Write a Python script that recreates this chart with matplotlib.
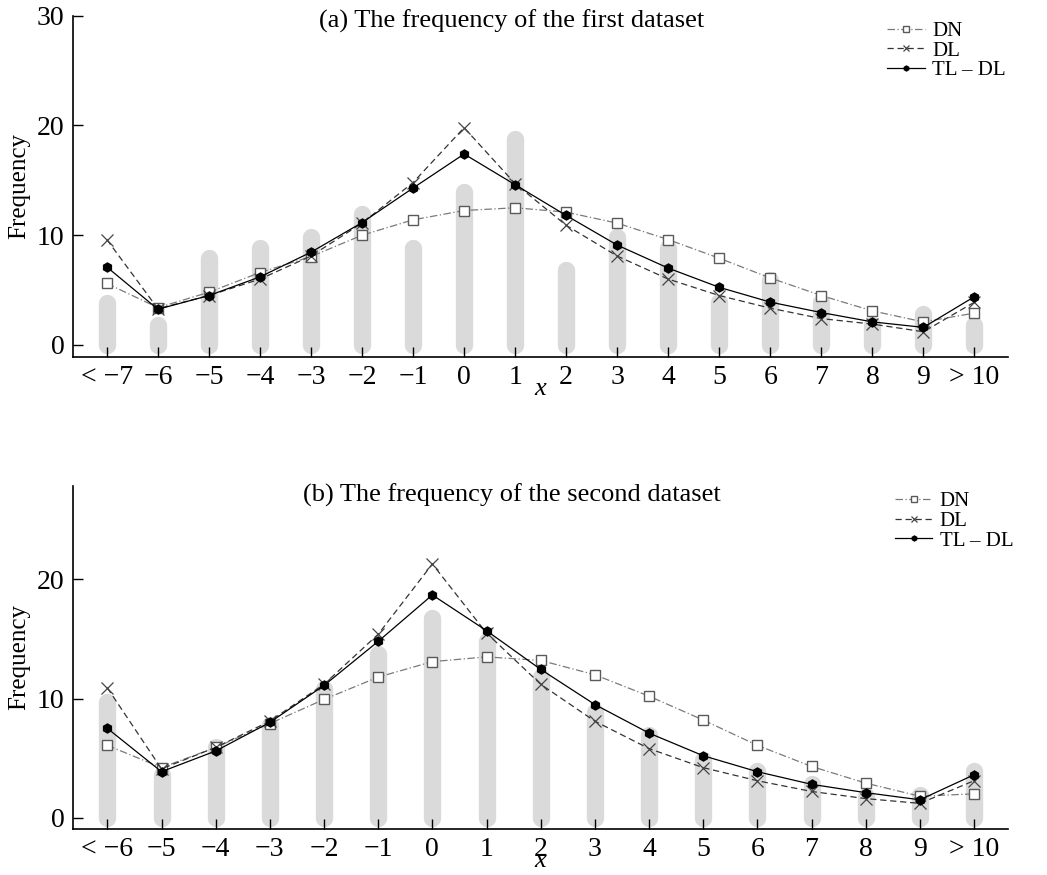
import matplotlib
matplotlib.use("Agg")
import matplotlib.pyplot as plt
import numpy as np

plt.rcParams['font.family'] = ['Liberation Serif', 'DejaVu Serif']

# panel (a)
labels_a = ['< \u22127', '\u22126', '\u22125', '\u22124', '\u22123', '\u22122', '\u22121',
            '0', '1', '2', '3', '4', '5', '6', '7', '8', '9', '> 10']
bars_a = [3.8, 1.8, 7.9, 8.8, 9.8, 11.9, 8.8, 13.9, 18.8, 6.8, 9.8, 8.8, 3.9, 5.9, 3.9, 1.8, 2.8, 1.8]
dn_a = [5.6, 3.4, 4.8, 6.6, 8.05, 10.0, 11.4, 12.25, 12.5, 12.1, 11.1, 9.6, 7.9, 6.1, 4.5, 3.1, 2.1, 2.9]
dl_a = [9.6, 3.3, 4.5, 6.0, 8.1, 11.1, 14.8, 19.8, 14.7, 10.9, 8.1, 6.0, 4.5, 3.35, 2.4, 1.9, 1.2, 3.9]
tl_a = [7.1, 3.25, 4.5, 6.2, 8.45, 11.15, 14.3, 17.4, 14.6, 11.8, 9.1, 7.0, 5.25, 3.9, 2.95, 2.1, 1.6, 4.4]

# panel (b)
labels_b = ['< \u22126', '\u22125', '\u22124', '\u22123', '\u22122', '\u22121',
            '0', '1', '2', '3', '4', '5', '6', '7', '8', '9', '> 10']
bars_b = [9.7, 3.6, 5.9, 7.8, 10.8, 13.7, 16.8, 14.8, 11.8, 8.9, 6.9, 4.8, 3.9, 2.8, 1.8, 1.9, 3.9]
dn_b = [6.07, 4.2, 5.9, 7.9, 9.93, 11.8, 13.1, 13.5, 13.2, 12.0, 10.2, 8.2, 6.07, 4.3, 2.9, 1.8, 2.0]
dl_b = [10.9, 4.1, 5.9, 8.1, 11.2, 15.4, 21.3, 15.5, 11.2, 8.1, 5.8, 4.2, 3.1, 2.2, 1.6, 1.2, 3.1]
tl_b = [7.5, 3.86, 5.6, 8.0, 11.1, 14.8, 18.7, 15.7, 12.45, 9.5, 7.1, 5.2, 3.86, 2.8, 2.1, 1.5, 3.6]


def drawPanel(ax, labels, bars, dn, dl, tl, title, ylim, xpad, title_y, leg_anchor, yticks):
    x = np.arange(len(labels))
    for i in range(len(bars)):
        ax.plot([x[i], x[i]], [0, bars[i]], color='#dadada', lw=12.5,
                solid_capstyle='round', zorder=1)
    ax.plot(x, dn, color='#7a7a7a', ls='-.', lw=0.9, marker='s', ms=7,
            mfc='white', mec='#5a5a5a', mew=1.0, dashes=(6, 2, 1, 2), label='DN', zorder=3)
    ax.plot(x, dl, color='#333333', ls='--', lw=0.9, marker='x', ms=9,
            mec='#444444', mew=0.9, dashes=(5, 3), label='DL', zorder=3)
    ax.plot(x, tl, color='black', ls='-', lw=0.9, marker='h', ms=6.5,
            mfc='black', mec='black', label='TL \u2013 DL', zorder=4)

    ax.set_xlim(-0.67 + xpad[0], len(labels) - 1 + xpad[1])
    ax.set_ylim(ylim)
    ax.set_xticks(x)
    ax.set_xticklabels(labels)
    ax.set_yticks(yticks)
    ax.tick_params(direction='in', length=7, width=1, labelsize=20, pad=6)
    for s in ['top', 'right']:
        ax.spines[s].set_visible(False)
    for s in ['left', 'bottom']:
        ax.spines[s].set_linewidth(1.2)
    ax.set_ylabel('Frequency', fontsize=18, labelpad=5)
    ax.set_xlabel('x', fontsize=19, style='italic', labelpad=-9)
    ax.text(0.47, title_y, title, transform=ax.transAxes, ha='center', va='center', fontsize=19)
    leg = ax.legend(loc='upper right', bbox_to_anchor=leg_anchor, frameon=False,
                    fontsize=15, handlelength=1.8, handletextpad=0.35, labelspacing=0.0,
                    borderaxespad=0, markerscale=0.55)
    return leg


fig = plt.figure(figsize=(10.47, 8.75), dpi=100)
ax1 = fig.add_axes([0.0694, 0.592, 0.893, 0.390])
ax2 = fig.add_axes([0.0694, 0.0526, 0.893, 0.392])

drawPanel(ax1, labels_a, bars_a, dn_a, dl_a, tl_a, '(a) The frequency of the first dataset',
          (-1.1, 30), (0, 0.65), 0.985, (1.007, 1.008), [0, 10, 20, 30])
drawPanel(ax2, labels_b, bars_b, dn_b, dl_b, tl_b, '(b) The frequency of the second dataset',
          (-0.95, 27.85), (0.03, 0.62), 0.973, (1.015, 1.007), [0, 10, 20])

fig.savefig('out.png', dpi=100)
